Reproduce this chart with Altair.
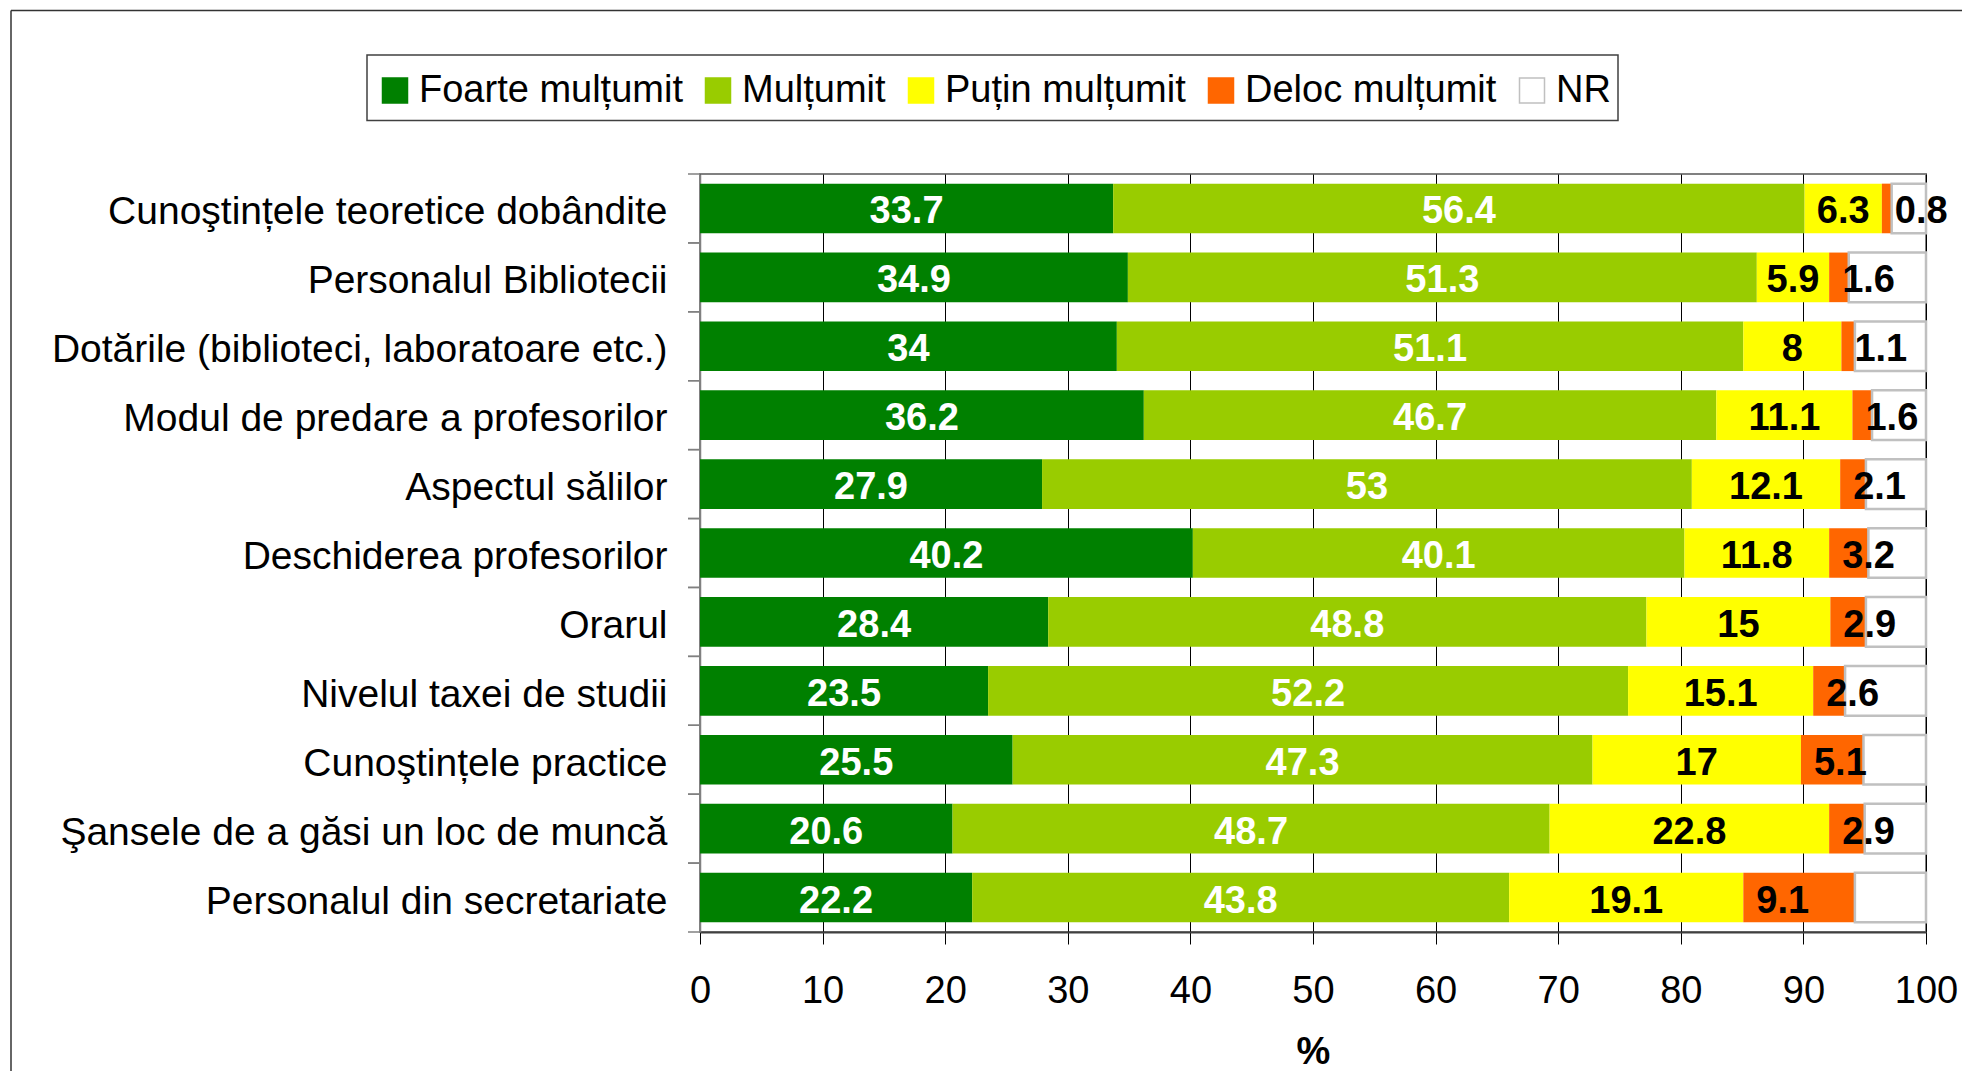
import altair as alt
import pandas as pd

categories = [
    "Cunoştințele teoretice dobândite",
    "Personalul Bibliotecii",
    "Dotările (biblioteci, laboratoare etc.)",
    "Modul de predare a profesorilor",
    "Aspectul sălilor",
    "Deschiderea profesorilor",
    "Orarul",
    "Nivelul taxei de studii",
    "Cunoştințele practice",
    "Şansele de a găsi un loc de muncă",
    "Personalul din secretariate",
]
series = ["Foarte mulțumit", "Mulțumit", "Puțin mulțumit", "Deloc mulțumit", "NR"]

foarte = [33.7, 34.9, 34, 36.2, 27.9, 40.2, 28.4, 23.5, 25.5, 20.6, 22.2]
multumit = [56.4, 51.3, 51.1, 46.7, 53, 40.1, 48.8, 52.2, 47.3, 48.7, 43.8]
putin = [6.3, 5.9, 8, 11.1, 12.1, 11.8, 15, 15.1, 17, 22.8, 19.1]
deloc = [0.8, 1.6, 1.1, 1.6, 2.1, 3.2, 2.9, 2.6, 5.1, 2.9, 9.1]
nr = [2.8, 6.3, 5.8, 4.4, 4.9, 4.7, 4.9, 6.6, 5.1, 5.0, 5.8]

fills = ["#008000", "#99CC00", "#FFFF00", "#FF6600", "#FFFFFF"]
strokes = ["#008000", "#99CC00", "#FFFF00", "#FF6600", "#C0C0C0"]
text_colors = ["white", "white", "black", "black", "black"]

rows = []
for i, c in enumerate(categories):
    start = 0.0
    for k, (s, vals) in enumerate(zip(series, [foarte, multumit, putin, deloc, nr])):
        v = vals[i]
        rows.append(dict(cat=c, series=s, value=v, start=start, end=start + v,
                         mid=start + v / 2, label=f"{v:g}", tc=text_colors[k]))
        start += v
df = pd.DataFrame(rows)

FONT = "Liberation Sans"
W, H = 1226, 758
STEP = H / len(categories)

y_axis = alt.Axis(labelFont=FONT, labelFontSize=39, labelColor="black", labelLimit=900,
                  ticks=False, tickSize=0, labelPadding=33, labelOffset=4,
                  domainColor="#808080", domainWidth=1.5, grid=False)
y_enc = alt.Y("cat:N", sort=categories, title=None,
              scale=alt.Scale(paddingInner=0.28, paddingOuter=0.14), axis=y_axis)

x_axis = alt.Axis(values=list(range(0, 101, 10)), grid=True, gridColor="black", gridWidth=1,
                  tickColor="black", tickSize=12, tickWidth=1, labelFont=FONT, labelFontSize=38,
                  labelColor="black", labelPadding=28, labelFlush=False,
                  domainColor="#404040", domainWidth=2,
                  titleFont=FONT, titleFontSize=38, titleFontWeight="bold", titleColor="black",
                  titleBaseline="alphabetic", titleY=131)


def x_enc(field):
    return alt.X(f"{field}:Q", title="%", scale=alt.Scale(domain=[0, 100], nice=False),
                 axis=x_axis)


legend = alt.Legend(orient="none", legendX=-324, legendY=-102.5, direction="horizontal",
                    title=None, labelFont=FONT, labelFontSize=38, labelColor="black",
                    labelLimit=600, symbolType="square", symbolSize=625, labelOffset=5,
                    columnPadding=16, padding=0)

base = alt.Chart(df)

one = pd.DataFrame({"a": [0]})
legend_box = alt.Chart(one).mark_rect(fill="white", stroke="#404040", strokeWidth=1.5).encode(
    x=alt.value(-333), x2=alt.value(918), y=alt.value(-119), y2=alt.value(-53.5))

bars = base.mark_bar().encode(
    x=x_enc("start"),
    x2="end:Q",
    y=y_enc,
    fill=alt.Fill("series:N", scale=alt.Scale(domain=series, range=fills), legend=legend),
    stroke=alt.Stroke("series:N", scale=alt.Scale(domain=series, range=strokes), legend=legend),
    strokeWidth=alt.condition("datum.series == 'NR'", alt.value(2.5), alt.value(0)),
)

txt_center = base.transform_filter(
    "datum.series != 'Deloc mulțumit' && datum.series != 'NR'"
).mark_text(font=FONT, fontSize=38, fontWeight="bold", align="center", baseline="middle",
            dy=4).encode(
    x=x_enc("mid"), y=y_enc, text="label:N", color=alt.Color("tc:N", scale=None)
)

txt_base = base.transform_filter("datum.series == 'Deloc mulțumit'").mark_text(
    font=FONT, fontSize=38, fontWeight="bold", align="left", baseline="middle", dx=13, dy=4
).encode(x=x_enc("start"), y=y_enc, text="label:N", color=alt.Color("tc:N", scale=None))

cat_df = pd.DataFrame({"cat": categories})
ticks_top = alt.Chart(cat_df).mark_rule(color="#808080", strokeWidth=1.5, yOffset=-STEP / 2).encode(
    y=y_enc, x=alt.value(-12), x2=alt.value(0))
ticks_bot = alt.Chart(cat_df).mark_rule(color="#808080", strokeWidth=1.5, yOffset=STEP / 2).encode(
    y=y_enc, x=alt.value(-12), x2=alt.value(0))

frame_top = alt.Chart(one).mark_rule(color="#333333", strokeWidth=1.5).encode(
    x=alt.value(-689), x2=alt.value(1262), y=alt.value(-163.5))
frame_left = alt.Chart(one).mark_rule(color="#333333", strokeWidth=1.5).encode(
    x=alt.value(-689), y=alt.value(-163.5), y2=alt.value(897))

chart = alt.layer(legend_box, bars, txt_center, txt_base, ticks_top, ticks_bot,
                  frame_top, frame_left).properties(
    width=W, height=H,
    padding={"left": 692, "top": 166, "right": 36, "bottom": 139},
    autosize=alt.AutoSizeParams(type="none"),
).configure_view(stroke="#808080", strokeWidth=2)

chart.save("out.html", embed_options={"renderer": "svg", "actions": False})
